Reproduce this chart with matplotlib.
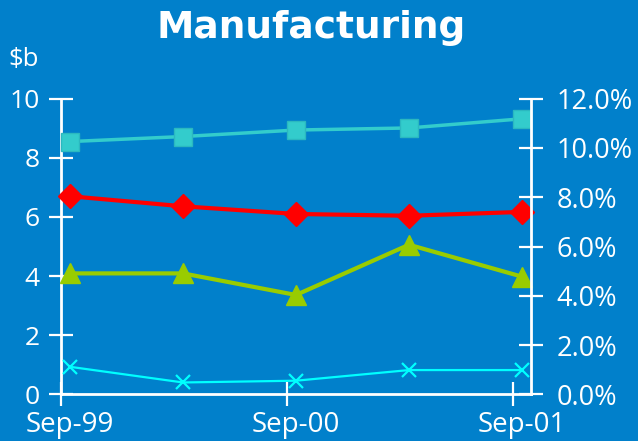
import matplotlib
matplotlib.use("Agg")
import matplotlib.pyplot as plt
import numpy as np

# Data (half-year observations, $b)
periods = ["Sep-99", "Mar-00", "Sep-00", "Mar-01", "Sep-01"]
squares = [8.55, 8.72, 8.94, 9.01, 9.32]
diamonds = [6.70, 6.36, 6.10, 6.04, 6.17]
triangles = [4.09, 4.09, 3.36, 5.06, 3.98]
crosses = [0.93, 0.40, 0.46, 0.82, 0.82]
xtick_labels = ["Sep-99", "Sep-00", "Sep-01"]
left_ticks = [0, 2, 4, 6, 8, 10]
right_ticks = [0, 2, 4, 6, 8, 10, 12]

bg = "#0180CB"
white = "white"

fig = plt.figure(figsize=(6.38, 4.41), dpi=100, facecolor=bg)
ax = fig.add_axes([61 / 638, 1 - 394.3 / 441, (531 - 61) / 638, (394.3 - 98.7) / 441])
ax.set_facecolor(bg)

x = np.arange(len(periods))
ax.plot(x, squares, color="#33CCCC", lw=2.5, marker="s", ms=13,
        mfc="#33CCCC", mec="#2BB8C0", clip_on=False, zorder=3)
ax.plot(x, diamonds, color="#FF0000", lw=3, marker="D", ms=12,
        clip_on=False, zorder=3)
ax.plot(x, triangles, color="#99CC00", lw=3, marker="^", ms=15,
        clip_on=False, zorder=3)
ax.plot(x, crosses, color="#00FFFF", lw=1.6, marker="x", ms=10, mew=1.6,
        clip_on=False, zorder=3)

ax.set_xlim(-0.08, 4.08)
ax.set_ylim(0, 10)
# labels sit under the data points, tick marks slightly to the left
ax.set_xticks([0, 2, 4])
ax.set_xticklabels(xtick_labels, family="Open Sans", fontsize=20)
ax.set_xticks([-0.08, 1.92, 3.92], minor=True)
ax.set_yticks(left_ticks)
ax.set_yticklabels([str(t) for t in left_ticks], family="Open Sans", fontsize=19)

for s in ["top", "right"]:
    ax.spines[s].set_visible(False)
for s in ["left", "bottom"]:
    ax.spines[s].set_color(white)
    ax.spines[s].set_linewidth(2)

ax.tick_params(axis="y", colors=white, direction="inout",
               length=17, width=1.6, pad=7)
ax.tick_params(axis="x", which="major", colors=white, length=0, pad=12)
ax.tick_params(axis="x", which="minor", colors=white, direction="inout",
               length=17, width=1.6)

ax2 = ax.twinx()
ax2.set_ylim(0, 12)
ax2.set_yticks(right_ticks)
ax2.set_yticklabels([f"{t:.1f}%" for t in right_ticks], family="Open Sans",
                    fontsize=19.5)
for s in ["top", "left", "bottom"]:
    ax2.spines[s].set_visible(False)
ax2.spines["right"].set_color(white)
ax2.spines["right"].set_linewidth(2)
ax2.tick_params(axis="y", colors=white, direction="inout",
                length=17, width=1.6, pad=10)

for lab in ax.get_xticklabels() + ax.get_yticklabels() + ax2.get_yticklabels():
    lab.set_color(white)

fig.text(0.488, 1 - 38 / 441, "Manufacturing", ha="center", va="baseline",
         fontsize=27, fontweight="bold", color=white, family="DejaVu Sans")
fig.text(8 / 638, 1 - 66 / 441, "$b", ha="left", va="baseline",
         fontsize=18.5, color=white, family="Open Sans")

fig.savefig("out.png", dpi=100, facecolor=bg)
